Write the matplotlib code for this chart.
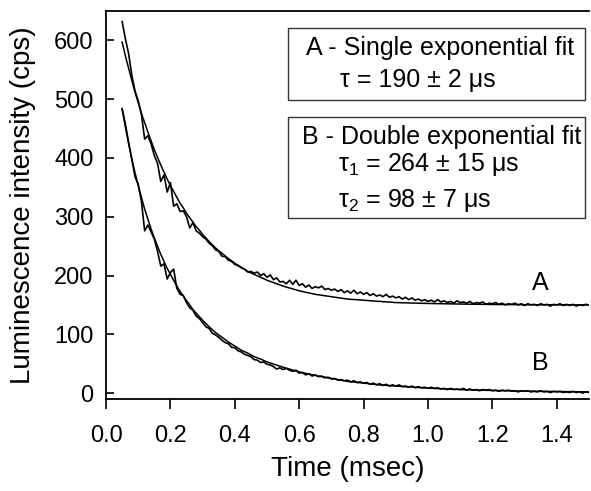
import numpy as np
import matplotlib
matplotlib.use("Agg")
import matplotlib.pyplot as plt

plt.rcParams['font.family'] = ['Liberation Sans', 'DejaVu Sans']
plt.rcParams['mathtext.fontset'] = 'custom'
plt.rcParams['mathtext.rm'] = 'Liberation Sans'

# sampling grid of the measured traces (msec)
t_data = np.round(np.arange(0.05, 1.5001, 0.01), 2)

# trace A (cps)
data_A = [632, 603, 578, 541, 514, 497, 474, 432, 438, 424,
          404, 391, 360, 371, 342, 358, 318, 322, 309, 310,
          300, 281, 290, 276, 272, 266, 262, 255, 251, 244,
          241, 233, 232, 226, 224, 219, 217, 213, 211, 206,
          207, 204, 206, 200, 203, 197, 201, 193, 196, 189,
          190, 186, 192, 185, 192, 183, 186, 180, 184, 178,
          181, 179, 182, 176, 178, 175, 177, 173, 176, 171,
          174, 170, 175, 169, 172, 168, 171, 166, 169, 165,
          167, 164, 168, 163, 165, 162, 164, 160, 163, 159,
          162, 158, 160, 157, 159, 156, 158, 155, 159, 155,
          157, 154, 156, 153, 157, 154, 155, 153, 156, 152,
          154, 153, 155, 151, 153, 152, 154, 151, 153, 150,
          152, 151, 153, 150, 152, 149, 152, 150, 151, 149,
          152, 150, 151, 148, 151, 150, 152, 149, 151, 149,
          151, 148, 150, 149, 151, 150]

# trace B (cps)
data_B = [484, 458, 427, 398, 368, 355, 326, 276, 286, 274,
          262, 241, 216, 220, 194, 205, 211, 178, 168, 166,
          154, 145, 141, 131, 127, 120, 113, 110, 102, 99,
          95, 90, 86, 84, 78, 77, 72, 70, 66, 64,
          62, 57, 56, 52, 53, 49, 48, 45, 41, 43,
          40, 42, 39, 37, 39, 34, 35, 31, 33, 29,
          31, 28, 29, 26, 27, 24, 25, 22, 23, 21,
          22, 19, 21, 18, 19, 17, 18, 15, 17, 14,
          16, 13, 15, 12, 14, 12, 14, 11, 12, 10,
          12, 9, 11, 9, 10, 8, 10, 8, 9, 7,
          8, 6, 8, 6, 7, 6, 8, 5, 7, 5,
          6, 4, 6, 5, 6, 4, 5, 3, 5, 4,
          5, 3, 4, 2, 4, 3, 4, 2, 3, 2,
          4, 2, 3, 1, 3, 2, 3, 1, 2, 1,
          3, 1, 2, 0, 2, 1]

# fitted curves
t_fit = [0.05, 0.06, 0.07, 0.08, 0.09, 0.10, 0.11, 0.12, 0.13, 0.14,
         0.15, 0.16, 0.17, 0.18, 0.19, 0.20, 0.21, 0.22, 0.23, 0.24,
         0.25, 0.26, 0.27, 0.28, 0.29, 0.30, 0.32, 0.34, 0.36, 0.38,
         0.40, 0.42, 0.44, 0.46, 0.48, 0.50, 0.55, 0.60, 0.65, 0.70,
         0.75, 0.80, 0.85, 0.90, 1.00, 1.10, 1.20, 1.30, 1.40, 1.50]
fit_A = [597, 574, 553, 532, 512, 494, 476, 460, 444, 429,
         414, 401, 388, 376, 364, 353, 343, 333, 323, 315,
         306, 298, 291, 283, 277, 270, 258, 247, 238, 229,
         221, 214, 207, 202, 197, 192, 182, 174, 168, 164,
         160, 158, 156, 154, 152.5, 151.5, 150.8, 150.4, 150.2, 150.1]
fit_B = [483, 453, 425, 399, 375, 353, 333, 313, 296, 279,
         264, 250, 236, 224, 212, 202, 192, 182, 173, 165,
         157, 150, 142, 136, 130, 124, 113, 103, 95, 87,
         80, 73, 68, 62, 58, 53, 44, 36, 30, 25,
         20, 17, 14, 12, 8.5, 6, 4.5, 3.4, 2.7, 2.1]

fig = plt.figure(figsize=(5.91, 4.91), dpi=100)
ax = fig.add_axes([0.1794, 0.1874, 0.8172, 0.7902])

ax.plot(t_data, data_A, color='black', lw=1.2)
ax.plot(t_fit, fit_A, color='black', lw=1.1)
ax.plot(t_data, data_B, color='black', lw=1.2)
ax.plot(t_fit, fit_B, color='black', lw=1.1)

ax.set_xlim(0, 1.5)
ax.set_ylim(-10, 650)
ax.set_xticks([0.0, 0.2, 0.4, 0.6, 0.8, 1.0, 1.2, 1.4])
ax.set_xticklabels(["0.0", "0.2", "0.4", "0.6", "0.8", "1.0", "1.2", "1.4"])
ax.set_yticks([0, 100, 200, 300, 400, 500, 600])
ax.tick_params(axis='x', direction='out', length=7, width=1.2, labelsize=17, pad=12)
ax.tick_params(axis='y', direction='in', length=6, width=1.2, labelsize=17, pad=9)
for s in ['left', 'bottom', 'top']:
    ax.spines[s].set_linewidth(1.3)
ax.spines['right'].set_visible(False)

ax.set_xlabel("Time (msec)", fontsize=20, labelpad=6)
ax.set_ylabel("Luminescence intensity (cps)", fontsize=20, labelpad=13)

# curve labels
ax.text(1.348, 187, "A", fontsize=18, ha='center', va='center')
ax.text(1.348, 51, "B", fontsize=18, ha='center', va='center')

# parameter boxes (figure coords)
boxA = plt.Rectangle((288 / 591, 1 - 100 / 491), 297 / 591, 72 / 491,
                     transform=fig.transFigure, fill=False, lw=1.0, edgecolor='#333333')
boxB = plt.Rectangle((288 / 591, 1 - 218 / 491), 297 / 591, 101 / 491,
                     transform=fig.transFigure, fill=False, lw=1.0, edgecolor='#333333')
fig.patches.extend([boxA, boxB])

fig.text(306 / 591, 1 - 48 / 491, "A - Single exponential fit", fontsize=18, va='center')
fig.text(340 / 591, 1 - 80 / 491, "τ = 190 ± 2 μs", fontsize=18, va='center')
fig.text(302 / 591, 1 - 137 / 491, "B - Double exponential fit", fontsize=18, va='center')
fig.text(338 / 591, 1 - 165 / 491, r"τ$_\mathrm{1}$ = 264 ± 15 μs", fontsize=18, va='center')
fig.text(338 / 591, 1 - 200 / 491, r"τ$_\mathrm{2}$ = 98 ± 7 μs", fontsize=18, va='center')

fig.savefig("out.png", dpi=100)
